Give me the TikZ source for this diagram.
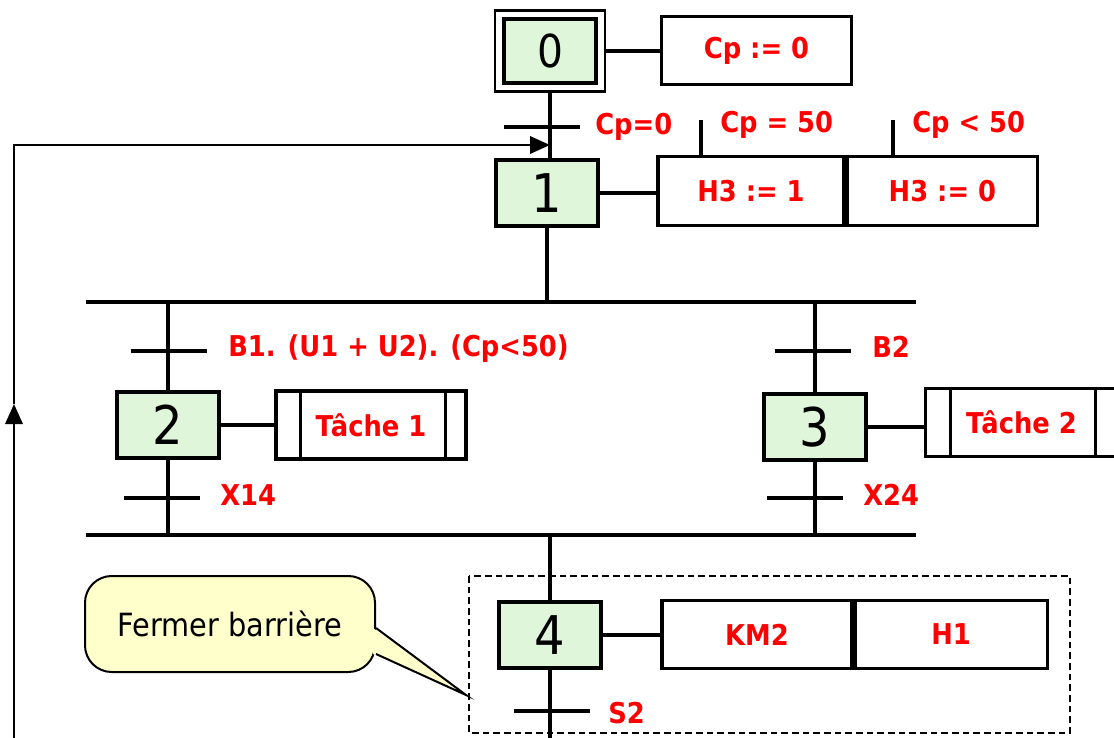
\documentclass[tikz,border=0pt]{standalone}
\usepackage{fontspec}
\setmainfont{DejaVu Sans Condensed}
\usetikzlibrary{arrows.meta,positioning,calc}
\definecolor{cStep}{RGB}{224,246,218}
\definecolor{cNote}{RGB}{255,255,204}
\definecolor{cAct}{RGB}{255,0,0}
\tikzset{
  stepbox/.style={rectangle,draw=black,line width=3.6pt,fill=cStep,
                  minimum width=76.5pt,minimum height=49.5pt,inner sep=0pt,
                  font=\fontsize{40}{42}\selectfont},
  actbox/.style={rectangle,draw=black,line width=2.3pt,minimum height=51.5pt,
                 inner sep=0pt,text=cAct,font=\fontsize{21.5}{24}\selectfont\bfseries},
  transbar/.style={rectangle,fill=black,minimum width=57pt,minimum height=2.3pt,
                   inner sep=0pt},
  cond/.style={text=cAct,font=\fontsize{21.5}{24}\selectfont\bfseries,
               anchor=west,inner sep=0pt},
  notebox/.style={rectangle,rounded corners=20pt,draw=black,line width=1.5pt,
                  fill=cNote,minimum width=217.5pt,minimum height=72pt,
                  font=\fontsize{24}{28}\selectfont},
  link/.style={line width=2.3pt},
  looparr/.style={line width=1.8pt,-{Triangle[length=15pt,width=13pt]}}
}

\begin{document}
\begin{tikzpicture}[x=0.75pt,y=-0.75pt]
  \useasboundingbox (0,0) rectangle (1114,738);

  % steps
  \node[stepbox,minimum width=69.5pt,minimum height=48pt,line width=3.2pt,
        font=\fontsize{34}{36}\selectfont] (s0) at (550,51) {0};
  \draw[line width=1.8pt]
    ([shift={(-6.5,-6.5)}]s0.north west) rectangle ([shift={(6.5,6.5)}]s0.south east);
  \node[stepbox] (s1) at (547,193) {1};
  \node[stepbox] (s2) at (168,425) {2};
  \node[stepbox] (s3) at (815,427) {3};
  \node[stepbox] (s4) at (550,635) {4};

  % actions
  \node[actbox,minimum width=143pt] (a0) at (756.5,50.5) {Cp := 0};
  \node[actbox,minimum width=139.5pt] (a1a) at (751,191) {H3 := 1};
  \node[actbox,minimum width=143pt,anchor=west] (a1b) at (a1a.east) {H3 := 0};
  \node[actbox,minimum width=142.5pt,minimum height=51pt] (a2) at (371,425) {Tâche 1};
  \node[actbox,minimum width=144.5pt,minimum height=50.5pt] (a3) at (1021.5,422.5) {Tâche 2};
  \node[actbox,minimum width=142.5pt,minimum height=50.5pt] (a4a) at (757,634.5) {KM2};
  \node[actbox,minimum width=144pt,anchor=west] (a4b) at (a4a.east) {H1};
  \foreach \b/\l/\r in {a2/19.5pt/16.5pt,a3/20.25pt/18pt}{
    \draw[link] ([xshift=\l]\b.north west) -- ([xshift=\l]\b.south west);
    \draw[link] ([xshift=-\r]\b.north east) -- ([xshift=-\r]\b.south east);
  }

  \draw[link] ([xshift=4.5pt]s0.east) -- (s0.east -| a0.west);
  \draw[link] (s1.east) -- (s1.east -| a1a.west);
  \draw[link] (s2.east) -- (s2.east -| a2.west);
  \draw[link] (s3.east) -- (s3.east -| a3.west);
  \draw[link] (s4.east) -- (s4.east -| a4a.west);

  % conditions on H3
  \coordinate (c50) at (701,120);
  \coordinate (c49) at (893,120);
  \draw[link] (c50) -- (c50 |- a1a.north);
  \draw[link] (c49) -- (c49 |- a1b.north);
  \node[cond] (lc50) at (720,125) {Cp = 50};
  \node[cond] (lc49) at (912,125) {Cp < 50};

  % divergence / convergence
  \coordinate (dvL) at (86,302);  \coordinate (dvR) at (916,302);
  \coordinate (cvL) at (86,535);  \coordinate (cvR) at (916,535);
  \draw[link] (dvL) -- (dvR);
  \draw[link] (cvL) -- (cvR);

  % links
  \draw[link] ([yshift=-4.5pt]s0.south) -- (s0.south |- s1.north);
  \draw[link] (s1.south) -- (s1.south |- dvL);
  \draw[link] (s2.north) -- (s2.north |- dvL);
  \draw[link] (s3.north) -- (s3.north |- dvL);
  \draw[link] (s2.south) -- (s2.south |- cvL);
  \draw[link] (s3.south) -- (s3.south |- cvL);
  \draw[link] (s4.north) -- (s4.north |- cvL);
  \coordinate (s4end) at (550,738);
  \draw[link] (s4.south) -- (s4end);

  % transitions
  \node[transbar] (t01) at (542,127) {};
  \node[transbar] (t12) at (168.5,351) {};
  \node[transbar] (t13) at (813,351) {};
  \node[transbar] (t2) at (162,498) {};
  \node[transbar] (t3) at (805,498) {};
  \node[transbar] (t4) at (551.5,711) {};
  \node[cond] (l01) at (595,127) {Cp=0};
  \node[cond] (l12) at (228,349) {B1. (U1 + U2). (Cp<50)};
  \node[cond] (l13) at (872,347) {B2};
  \node[cond] (l2) at (220,495) {X14};
  \node[cond] (l3) at (863,495) {X24};
  \node[cond] (l4) at (608,713) {S2};

  % loop back to step 1
  \coordinate (lpS) at (14,738);
  \coordinate (lpM) at (14,404);
  \coordinate (lpT) at (14,145);
  \draw[looparr] (lpS) -- (lpM);
  \draw[looparr] (lpM) -- (lpT) -- (lpT -| s0.south);

  % macro-step frame
  \draw[line width=1.2pt,dash pattern=on 5pt off 3pt] (469,576) rectangle (1070,733);

  % comment
  \node[notebox] (note) at (230,624) {Fermer barrière};
  \coordinate (ntip) at (466,695);
  \fill[cNote] ($(note.east)+(-3,4)$) -- (ntip) -- ($(note.east)+(-3,30)$) -- cycle;
  \draw[line width=1.5pt] ($(note.east)+(0,4)$) -- (ntip) -- ($(note.east)+(0,30)$);
\end{tikzpicture}
\end{document}
